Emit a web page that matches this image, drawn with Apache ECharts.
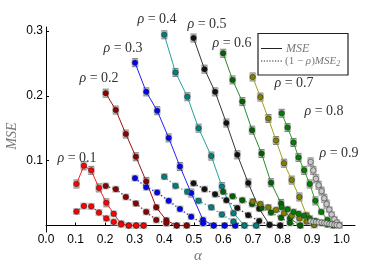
<!DOCTYPE html>
<html><head><meta charset="utf-8">
<script src="https://cdn.jsdelivr.net/npm/echarts@6/dist/echarts.min.js"></script>
<style>html,body{margin:0;padding:0;background:#fff}#c{width:374px;height:267px}</style>
</head><body><div id="c"></div>
<script>
// ---- data ----
const rhoValues = [0.1,0.2,0.3,0.4,0.5,0.6,0.7,0.8,0.9];
const xTicks = [0.0,0.1,0.2,0.3,0.4,0.5,0.6,0.7,0.8,0.9,1.0];
const yTicks = [0.1,0.2,0.3];

const alpha1 = [0.103,0.128,0.153,0.179,0.204,0.229,0.254,0.280,0.305,0.330];
const mse1   = [0.064,0.092,0.085,0.058,0.035,0.018,0.003,0.0,0.0,0.0];
const mse2_1 = [0.0215,0.030,0.0295,0.020,0.011,0.0056,0.0017,0.0,0.0,0.0];

const alpha2 = [0.202,0.236,0.270,0.304,0.339,0.373,0.407,0.442,0.476];
const mse2   = [0.204,0.178,0.141,0.106,0.068,0.028,0.008,0.0,0.0];
const mse2_2 = [0.061,0.056,0.044,0.034,0.021,0.0085,0.0034,0.0,0.0];

const alpha3 = [0.301,0.339,0.376,0.415,0.453,0.491,0.531,0.567,0.604,0.640];
const mse3   = [0.251,0.206,0.177,0.135,0.091,0.050,0.0085,0.0,0.0,0.0];
const mse2_3 = [0.073,0.059,0.051,0.038,0.0254,0.0136,0.0034,0.0,0.0,0.0];

const alpha4 = [0.400,0.438,0.478,0.516,0.559,0.595,0.634,0.671,0.711];
const mse4   = [0.294,0.236,0.1985,0.150,0.107,0.060,0.019,0.0,0.0];
const mse2_4 = [0.0753,0.061,0.052,0.038,0.028,0.017,0.006,0.0,0.0];

const alpha5 = [0.499,0.536,0.572,0.610,0.647,0.684,0.721,0.756,0.792];
const mse5   = [0.289,0.241,0.206,0.158,0.109,0.0655,0.026,0.001,0.0];
const mse2_5 = [0.065,0.056,0.048,0.039,0.027,0.016,0.007,0.001,0.0];

const alpha6 = [0.599,0.631,0.664,0.697,0.729,0.761,0.795,0.825,0.860];
const mse6   = [0.2655,0.2244,0.191,0.147,0.111,0.066,0.034,0.011,0.0];
const mse2_6 = [0.052,0.045,0.039,0.033,0.027,0.020,0.012,0.004,0.0];

const alpha7 = [0.699,0.725,0.752,0.778,0.805,0.831,0.857,0.881,0.907];
const mse7   = [0.229,0.198,0.165,0.131,0.096,0.070,0.044,0.016,0.001];
const mse2_7 = [0.037,0.033,0.028,0.024,0.019,0.015,0.011,0.006,0.001];

const alpha8 = [0.797,0.817,0.837,0.854,0.873,0.892,0.911,0.931,0.952,0.972];
const mse8   = [0.173,0.151,0.128,0.105,0.085,0.064,0.038,0.021,0.0086,0.0018];
const mse2_8 = [0.028,0.025,0.021,0.018,0.015,0.011,0.007,0.004,0.0015,0.0];

const alpha9 = [0.895,0.904,0.913,0.922,0.932,0.941,0.949,0.958,0.966,0.975,0.983,0.992];
const mse9   = [0.098,0.085,0.072,0.062,0.053,0.042,0.033,0.0245,0.017,0.0097,0.0045,0.001];
const mse2_9 = [0.0065,0.006,0.0055,0.005,0.0045,0.004,0.0033,0.0025,0.0018,0.0012,0.0006,0.0001];

const alphas = [alpha1,alpha2,alpha3,alpha4,alpha5,alpha6,alpha7,alpha8,alpha9];
const mses   = [mse1,mse2,mse3,mse4,mse5,mse6,mse7,mse8,mse9];
const mse2s  = [mse2_1,mse2_2,mse2_3,mse2_4,mse2_5,mse2_6,mse2_7,mse2_8,mse2_9];

// ---- styles ----
const markerColors = ['#ff0000','#8b0000','#0000ff','#008080','#111111','#006400','#808000','#008000','#c8c8c8'];
const lineColors   = ['#ff2020','#9b1010','#2020ff','#20a0a0','#333333','#2a8a2a','#a0a020','#2aa02a','#b0b0b0'];
const labelPos = [[77,158],[99,78],[123,48],[157,19],[207,24],[232,43],[294,83],[324,111],[339,153]];

const serif = '"Liberation Serif","DejaVu Serif",serif';
const sans = '"Liberation Sans",Arial,sans-serif';

const chart = echarts.init(document.getElementById('c'), null, {renderer:'canvas'});

const series = [];
const errPts = [];
rhoValues.forEach((rho,i)=>{
  const solid = alphas[i].map((a,j)=>[a, mses[i][j]]);
  const dotted = alphas[i].map((a,j)=>[a, mse2s[i][j]]);
  solid.forEach(p=>errPts.push([p[0],p[1],1]));
  dotted.forEach(p=>errPts.push([p[0],p[1],0]));
  series.push({
    type:'line', data:solid, z:3, symbol:'circle', symbolSize:5.5, animation:false,
    lineStyle:{color:lineColors[i], width:1},
    itemStyle:{color:markerColors[i], borderColor:'#222', borderWidth:0.5}
  });
  series.push({
    type:'line', data:dotted, z:3, symbol:'circle', symbolSize:5.5, animation:false,
    lineStyle:{color:lineColors[i], width:1.3, type:[1.3,2.2]},
    itemStyle:{color:markerColors[i], borderColor:'#222', borderWidth:0.5}
  });
});
series.unshift({
  type:'custom', z:1, data:errPts, animation:false, silent:true,
  renderItem:function(params, api){
    const p = api.coord([api.value(0), api.value(1)]);
    const ch = [{type:'rect', shape:{x:p[0]-3.5,y:p[1]-3.5,width:7,height:7}, style:{fill:'#c0c0c0'}}];
    if (api.value(2) === 1 && api.value(1) > 0.03) {
      ch.push({type:'line', shape:{x1:p[0]-3,y1:p[1]-4,x2:p[0]+3,y2:p[1]-4}, style:{stroke:'#444',lineWidth:0.7}});
      ch.push({type:'line', shape:{x1:p[0]-3,y1:p[1]+4,x2:p[0]+3,y2:p[1]+4}, style:{stroke:'#444',lineWidth:0.7}});
    }
    return {type:'group', children:ch};
  }
});

const graphics = rhoValues.map((rho,i)=>({
  type:'text', x:labelPos[i][0], y:labelPos[i][1], z:10,
  style:{text:'{i|ρ} = '+rho.toFixed(1), font:'14px '+serif, fill:'#333', align:'center', verticalAlign:'middle',
    rich:{i:{fontStyle:'italic', font:'italic 14px '+serif, fill:'#333'}}}
}));
graphics.push(
  {type:'rect', z:10, shape:{x:258,y:33.5,width:90,height:41.5}, style:{fill:'#fff', stroke:'#222', lineWidth:1.2}},
  {type:'line', z:11, shape:{x1:261,y1:48.5,x2:282,y2:48.5}, style:{stroke:'#222', lineWidth:1}},
  {type:'line', z:11, shape:{x1:261,y1:61,x2:282,y2:61}, style:{stroke:'#222', lineWidth:1.2, lineDash:[1.2,1.6]}},
  {type:'text', z:11, x:286, y:48.5, style:{text:'MSE', font:'italic 12px '+serif, fill:'#777', verticalAlign:'middle'}},
  {type:'text', z:11, x:285, y:61, style:{text:'(1 − {i|ρ}){i|MSE}{s|2}', font:'11px '+serif, fill:'#777', verticalAlign:'middle',
    rich:{i:{font:'italic 11px '+serif, fill:'#777'}, s:{font:'italic 8px '+serif, fill:'#777', verticalAlign:'bottom', padding:[6,0,0,0]}}}},
  {type:'text', z:10, x:12, y:136, rotation:Math.PI/2, style:{text:'MSE', font:'italic 14px '+serif, fill:'#777', align:'center', verticalAlign:'middle'}},
  {type:'text', z:10, x:198, y:256, style:{text:'α', font:'italic 15px '+serif, fill:'#777', align:'center', verticalAlign:'middle'}}
);

chart.setOption({
  animation:false,
  grid:{left:46, right:19, top:27, bottom:35},
  xAxis:{type:'value', min:0, max:1.045,
    axisLine:{show:true, lineStyle:{color:'#000', width:1}},
    axisTick:{show:true, inside:true, length:3, customValues:xTicks, lineStyle:{color:'#000'}},
    axisLabel:{customValues:xTicks, margin:2, fontSize:12, fontFamily:sans, color:'#000', formatter:v=>v.toFixed(1)},
    splitLine:{show:false}},
  yAxis:{type:'value', min:-0.01, max:0.306,
    axisLine:{show:true, lineStyle:{color:'#000', width:1}},
    axisTick:{show:true, inside:true, length:3, customValues:yTicks, lineStyle:{color:'#000'}},
    axisLabel:{customValues:yTicks, margin:3, fontSize:12, fontFamily:sans, color:'#000', formatter:v=>v.toFixed(1)},
    splitLine:{show:false}},
  series:series,
  graphic:graphics
});
</script></body></html>
